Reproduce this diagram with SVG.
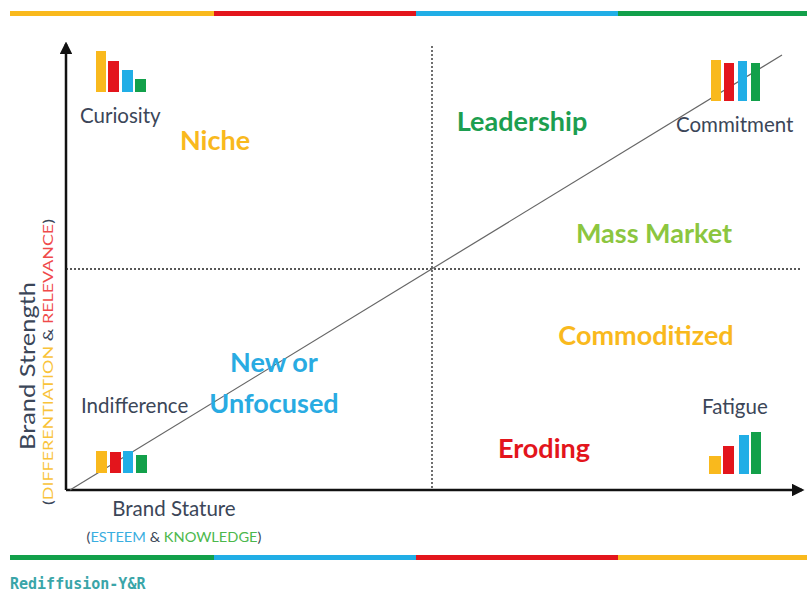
<svg xmlns="http://www.w3.org/2000/svg" width="807" height="596" viewBox="0 0 807 596">
  <style>
    .lbl { font-family: Lato, "Open Sans", "Liberation Sans", sans-serif; fill: #3b4658; font-size: 20.5px; }
    .q { font-family: Lato, "Open Sans", "Liberation Sans", sans-serif; font-weight: bold; font-size: 27px; }
    .axis { stroke: #111; stroke-width: 2.5; fill: none; }
    .guide { stroke: #222; stroke-width: 1.3; stroke-dasharray: 2 2; fill: none; }
    .yl { fill: #f9b91d; } .rd { fill: #e3151c; } .bl { fill: #21aee6; } .gr { fill: #12a04a; }
  </style>
  <defs>
    <marker id="arrow" viewBox="0 0 10 10" refX="8" refY="5" markerWidth="5" markerHeight="5" orient="auto">
      <path d="M0,0 L10,5 L0,10 z" fill="#111"/>
    </marker>
  </defs>
  <rect width="807" height="596" fill="#ffffff"/>

  <!-- colour band, top -->
  <g id="band-top">
    <rect x="10" y="11" width="204" height="5" class="yl"/>
    <rect x="214" y="11" width="202" height="5" class="rd"/>
    <rect x="416" y="11" width="202" height="5" class="bl"/>
    <rect x="618" y="11" width="189" height="5" class="gr"/>
  </g>

  <!-- colour band, bottom -->
  <g id="band-bottom">
    <rect x="10" y="555" width="204" height="5" class="gr"/>
    <rect x="214" y="555" width="202" height="5" class="bl"/>
    <rect x="416" y="555" width="202" height="5" class="rd"/>
    <rect x="618" y="555" width="189" height="5" class="yl"/>
  </g>

  <!-- axes, quadrant guides and diagonal -->
  <g id="connectors">
    <line x1="66" y1="490" x2="66" y2="44" class="axis" marker-end="url(#arrow)"/>
    <line x1="66" y1="490" x2="802" y2="490" class="axis" marker-end="url(#arrow)"/>
    <line x1="432" y1="46" x2="432" y2="490" class="guide"/>
    <line x1="66" y1="269" x2="802" y2="269" class="guide"/>
    <line x1="70" y1="490" x2="782" y2="55" stroke="#666" stroke-width="1.2"/>
  </g>

  <!-- axis titles -->
  <g id="y-axis-title">
    <text class="lbl" transform="translate(35,366) rotate(-90)" text-anchor="middle" font-size="23" textLength="168" lengthAdjust="spacingAndGlyphs">Brand Strength</text>
    <text transform="translate(53,362) rotate(-90)" text-anchor="middle" font-family="Lato, 'Open Sans', 'Liberation Sans', sans-serif" font-size="14" textLength="286" lengthAdjust="spacingAndGlyphs"><tspan fill="#3b4658">(</tspan><tspan fill="#f9c33a">DIFFERENTIATION</tspan><tspan fill="#3b4658"> &amp; </tspan><tspan fill="#ef4a4a">RELEVANCE</tspan><tspan fill="#3b4658">)</tspan></text>
  </g>
  <g id="x-axis-title">
    <text class="lbl" x="174" y="516" text-anchor="middle" font-size="21">Brand Stature</text>
    <text x="174" y="542" text-anchor="middle" font-family="Lato, 'Open Sans', 'Liberation Sans', sans-serif" font-size="13" textLength="175" lengthAdjust="spacingAndGlyphs"><tspan fill="#3b4658">(</tspan><tspan fill="#3aaee0">ESTEEM</tspan><tspan fill="#3b4658"> &amp; </tspan><tspan fill="#4cb84c">KNOWLEDGE</tspan><tspan fill="#3b4658">)</tspan></text>
  </g>

  <!-- corner markers -->
  <g id="curiosity">
    <rect x="96" y="51" width="10" height="41" class="yl"/>
    <rect x="108" y="61" width="11" height="31" class="rd"/>
    <rect x="122" y="70" width="11" height="22" class="bl"/>
    <rect x="135" y="79" width="11" height="13" class="gr"/>
    <text class="lbl" x="80" y="123">Curiosity</text>
  </g>
  <g id="commitment">
    <rect x="711" y="60" width="10" height="41" class="yl"/>
    <rect x="724" y="63" width="10" height="38" class="rd"/>
    <rect x="738" y="61" width="9" height="40" class="bl"/>
    <rect x="751" y="63" width="9" height="38" class="gr"/>
    <text class="lbl" x="676" y="132">Commitment</text>
  </g>
  <g id="indifference">
    <rect x="96" y="451" width="11" height="22" class="yl"/>
    <rect x="110" y="452" width="11" height="21" class="rd"/>
    <rect x="123" y="451" width="10" height="22" class="bl"/>
    <rect x="136" y="455" width="11" height="18" class="gr"/>
    <text class="lbl" x="81" y="413">Indifference</text>
  </g>
  <g id="fatigue">
    <rect x="709" y="456" width="12" height="18" class="yl"/>
    <rect x="723" y="446" width="11" height="28" class="rd"/>
    <rect x="739" y="435" width="10" height="39" class="bl"/>
    <rect x="751" y="432" width="10" height="42" class="gr"/>
    <text class="lbl" x="702" y="414">Fatigue</text>
  </g>

  <!-- quadrant labels -->
  <g id="niche"><text class="q" x="215" y="150" text-anchor="middle" fill="#f9b91d">Niche</text></g>
  <g id="leadership"><text class="q" x="522" y="131" text-anchor="middle" fill="#1c9e50">Leadership</text></g>
  <g id="mass-market"><text class="q" x="654" y="243" text-anchor="middle" fill="#8cc63f">Mass Market</text></g>
  <g id="commoditized"><text class="q" x="646" y="345" text-anchor="middle" fill="#f9b91d">Commoditized</text></g>
  <g id="new-or-unfocused">
    <text class="q" x="274" y="372" text-anchor="middle" fill="#29abe2">New or</text>
    <text class="q" x="274" y="413" text-anchor="middle" fill="#29abe2">Unfocused</text>
  </g>
  <g id="eroding"><text class="q" x="544" y="458" text-anchor="middle" fill="#e3151c">Eroding</text></g>

  <!-- agency name -->
  <g id="credit">
    <text x="10" y="589" font-family="'DejaVu Sans Mono', monospace" font-weight="bold" font-size="15" fill="#3aa5a8">Rediffusion-Y&amp;R</text>
  </g>
</svg>
